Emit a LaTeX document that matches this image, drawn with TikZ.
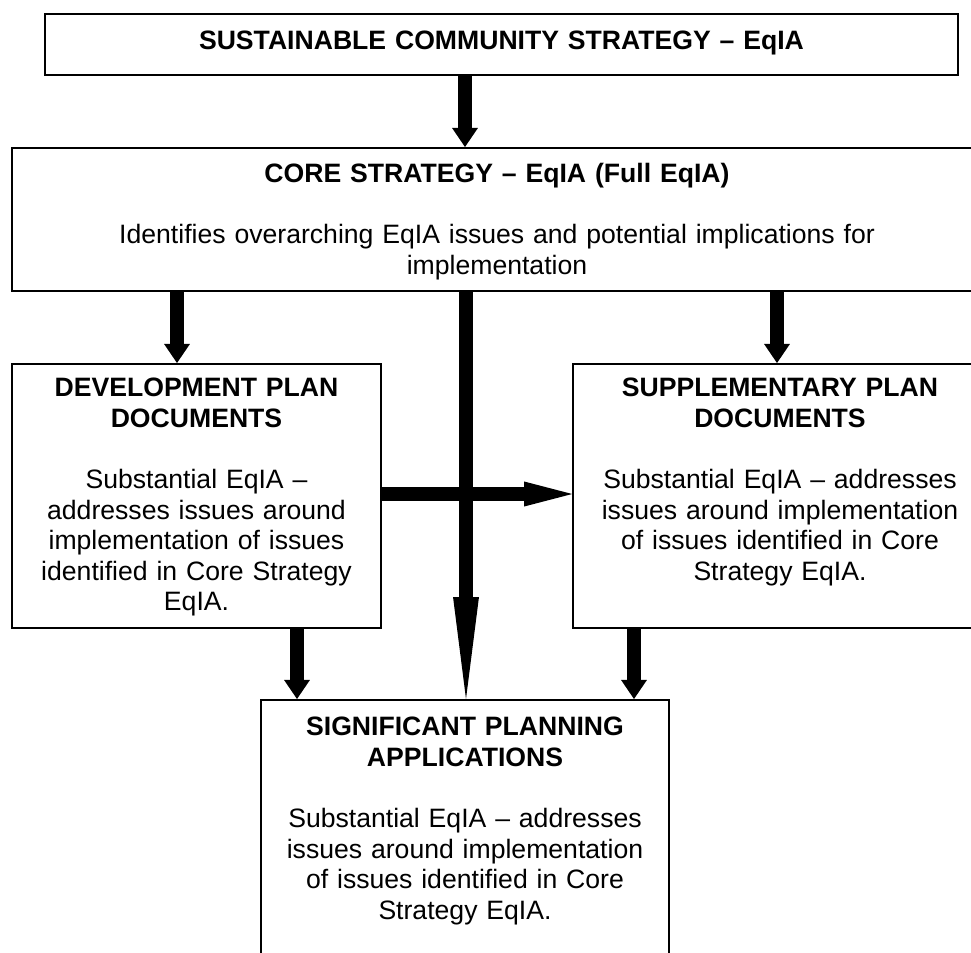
\documentclass[tikz,border=0pt]{standalone}
\usepackage{fontspec}
\setmainfont{Liberation Sans}
\usetikzlibrary{arrows.meta,positioning}

\begin{document}
\begin{tikzpicture}[x=0.4511pt,y=-0.4511pt,
    box/.style={draw,line width=0.7pt,inner sep=0pt,align=center,anchor=north,
        font=\fontsize{12pt}{13.8pt}\selectfont},
    fatarrow/.style={line width=6.1pt,-{Triangle[width=11.7pt,length=8.6pt,line width=0pt]}}]
    \useasboundingbox (0,0) rectangle (971,953);
    \clip (0,0) rectangle (971,953);

    % the boxes, top edge given
    \node[box,text width=411.9pt,text height=16.2pt,text depth=11.3pt] (scs) at (501.5,13)
        {\textbf{SUSTAINABLE COMMUNITY STRATEGY – EqIA}};
    \node[box,text width=437.6pt,text height=15.8pt,text depth=48.7pt] (core) at (497,147)
        {\textbf{CORE STRATEGY – EqIA (Full EqIA)}\\[13.8pt]
         Identifies overarching EqIA issues and potential implications for\\implementation};
    \node[box,text width=166.5pt,text height=14.9pt,text depth=104.2pt] (dpd) at (196.5,363)
        {\textbf{DEVELOPMENT PLAN}\\\textbf{DOCUMENTS}\\[13.8pt]
         Substantial EqIA –\\addresses issues around\\implementation of issues\\identified in Core Strategy\\EqIA.};
    \node[box,text width=186.8pt,text height=14.9pt,text depth=104.2pt] (spd) at (780,363)
        {\textbf{SUPPLEMENTARY PLAN}\\\textbf{DOCUMENTS}\\[13.8pt]
         Substantial EqIA – addresses\\issues around implementation\\of issues identified in Core\\Strategy EqIA.};
    \node[box,text width=184.1pt,text height=16.2pt,text depth=119.5pt] (spa) at (465,699)
        {\textbf{SIGNIFICANT PLANNING}\\\textbf{APPLICATIONS}\\[13.8pt]
         Substantial EqIA – addresses\\issues around implementation\\of issues identified in Core\\Strategy EqIA.};

    % where the arrows run
    \coordinate (a1) at (465,0);
    \coordinate (a2) at (177,0);
    \coordinate (a3) at (777,0);
    \coordinate (a4) at (466,0);
    \coordinate (a5) at (297,0);
    \coordinate (a6) at (634,0);
    \coordinate (h) at (0,494);

    \draw[fatarrow] (scs.south -| a1) -- (core.north -| a1);
    \draw[fatarrow] (core.south -| a2) -- (dpd.north -| a2);
    \draw[fatarrow] (core.south -| a3) -- (spd.north -| a3);
    \draw[line width=6.1pt,-{Triangle[width=11.7pt,length=46pt,line width=0pt]}] (core.south -| a4) -- (spa.north -| a4);
    \draw[line width=6.3pt,-{Triangle[width=11.3pt,length=21.7pt,line width=0pt]}] (dpd.east |- h) -- (spd.west |- h);
    \draw[fatarrow] (dpd.south -| a5) -- (spa.north -| a5);
    \draw[fatarrow] (spd.south -| a6) -- (spa.north -| a6);
\end{tikzpicture}
\end{document}
